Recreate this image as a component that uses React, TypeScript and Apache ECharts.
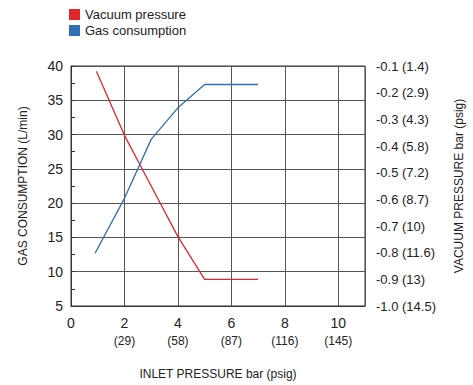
import React, { useEffect, useRef } from "react";
import * as echarts from "echarts";

const FONT = "'Liberation Sans', Arial, Helvetica, sans-serif";

// Inlet pressure (bar) tick labels and psig equivalents
const inletTicks = [0, 2, 4, 6, 8, 10];
const inletPsig = ["", "29", "58", "87", "116", "145"];

// Right axis: vacuum pressure bar with psig equivalents
const vacuumBarTicks = [-0.1, -0.2, -0.3, -0.4, -0.5, -0.6, -0.7, -0.8, -0.9, -1.0];
const vacuumPsigTicks = ["1.4", "2.9", "4.3", "5.8", "7.2", "8.7", "10", "11.6", "13", "14.5"];

// Vacuum pressure series (x = inlet bar, y = vacuum bar)
const vacuumX = [0.95, 2, 3, 4, 5, 7];
const vacuumY = [-0.12, -0.36, -0.55, -0.74, -0.9, -0.9];

// Gas consumption series (x = inlet bar, y = L/min)
const gasX = [0.9, 2, 3, 4, 5, 7];
const gasY = [12.7, 20.7, 29.3, 33.9, 37.3, 37.3];

export default function App() {
  const ref = useRef<HTMLDivElement>(null);
  useEffect(() => {
    if (!ref.current) return;
    const chart = echarts.init(ref.current, undefined, { renderer: "svg" });
    const vacData = vacuumX.map((x, i) => [x, vacuumY[i]]);
    const gasData = gasX.map((x, i) => [x, gasY[i]]);
    chart.setOption({
      animation: false,
      textStyle: { fontFamily: FONT },
      grid: {
        left: 71,
        right: 104,
        top: 66,
        bottom: 77,
        show: true,
        borderColor: "#333",
        borderWidth: 1,
      },
      legend: {
        orient: "vertical",
        left: 69,
        top: 8,
        itemWidth: 11,
        itemHeight: 11,
        itemGap: 3,
        padding: 0,
        icon: "rect",
        textStyle: { fontSize: 13, color: "#222", fontFamily: FONT, lineHeight: 13 },
        data: ["Vacuum pressure", "Gas consumption"],
      },
      xAxis: {
        type: "value",
        min: 0,
        max: 11,
        interval: 2,
        name: "INLET PRESSURE bar (psig)",
        nameLocation: "middle",
        nameGap: 62,
        nameTextStyle: { fontSize: 12, color: "#222", fontFamily: FONT },
        axisLine: { show: true, lineStyle: { color: "#333" } },
        axisTick: { show: false },
        splitLine: { show: true, lineStyle: { color: "#555", width: 1 } },
        axisLabel: {
          showMaxLabel: false,
          margin: 8,
          color: "#222",
          fontFamily: FONT,
          formatter: (v: number) => {
            const i = inletTicks.indexOf(Math.round(v));
            if (i < 0 || Math.abs(v - Math.round(v)) > 1e-6) return "";
            const p = inletPsig[i];
            return p ? `{a|${inletTicks[i]}}\n{b|(${p})}` : `{a|${inletTicks[i]}}`;
          },
          rich: {
            a: { fontSize: 14, lineHeight: 18, color: "#222", fontFamily: FONT },
            b: { fontSize: 12, lineHeight: 18, color: "#222", fontFamily: FONT },
          },
          verticalAlign: "top",
        },
      },
      yAxis: [
        {
          type: "value",
          min: 5,
          max: 40,
          interval: 5,
          position: "left",
          name: "GAS CONSUMPTION (L/min)",
          nameLocation: "middle",
          nameGap: 42,
          nameRotate: 90,
          nameTextStyle: { fontSize: 12, color: "#222", fontFamily: FONT },
          axisLine: { show: true, lineStyle: { color: "#333" } },
          axisTick: { show: false },
          splitLine: { show: true, lineStyle: { color: "#555", width: 1 } },
          axisLabel: { fontSize: 14, color: "#222", margin: 8, fontFamily: FONT },
        },
        {
          type: "value",
          min: -1.0,
          max: -0.1,
          interval: 0.1,
          position: "right",
          name: "VACUUM PRESSURE bar (psig)",
          nameLocation: "middle",
          nameGap: 88,
          nameRotate: 90,
          nameTextStyle: { fontSize: 12, color: "#222", fontFamily: FONT },
          axisLine: { show: false },
          axisTick: { show: false },
          splitLine: { show: false },
          axisLabel: {
            fontSize: 13,
            color: "#222",
            margin: 11,
            fontFamily: FONT,
            formatter: (v: number) => {
              const k = Math.round(-v * 10);
              const i = k - 1;
              if (i < 0 || i >= vacuumBarTicks.length) return "";
              return `${vacuumBarTicks[i].toFixed(1)} (${vacuumPsigTicks[i]})`;
            },
          },
        },
        {
          // minor tick marks (inside) on the left axis
          type: "value",
          min: 5,
          max: 40,
          interval: 2.5,
          position: "left",
          offset: 0,
          axisLine: { show: false },
          axisTick: { show: true, inside: true, length: 4, lineStyle: { color: "#333" } },
          axisLabel: { show: false },
          splitLine: { show: false },
        },
      ],
      series: [
        {
          name: "Vacuum pressure",
          type: "line",
          yAxisIndex: 1,
          data: vacData,
          showSymbol: false,
          symbol: "none",
          itemStyle: { color: "#e3262d" },
          lineStyle: { color: "#e3262d", width: 1.3 },
        },
        {
          name: "Gas consumption",
          type: "line",
          yAxisIndex: 0,
          data: gasData,
          showSymbol: false,
          symbol: "none",
          itemStyle: { color: "#2f6fb3" },
          lineStyle: { color: "#2f6fb3", width: 1.3 },
        },
      ],
    });
    return () => chart.dispose();
  }, []);
  return (
    <div
      ref={ref}
      style={{ position: "fixed", left: 0, top: 0, width: 473, height: 385, background: "#fff" }}
    />
  );
}
